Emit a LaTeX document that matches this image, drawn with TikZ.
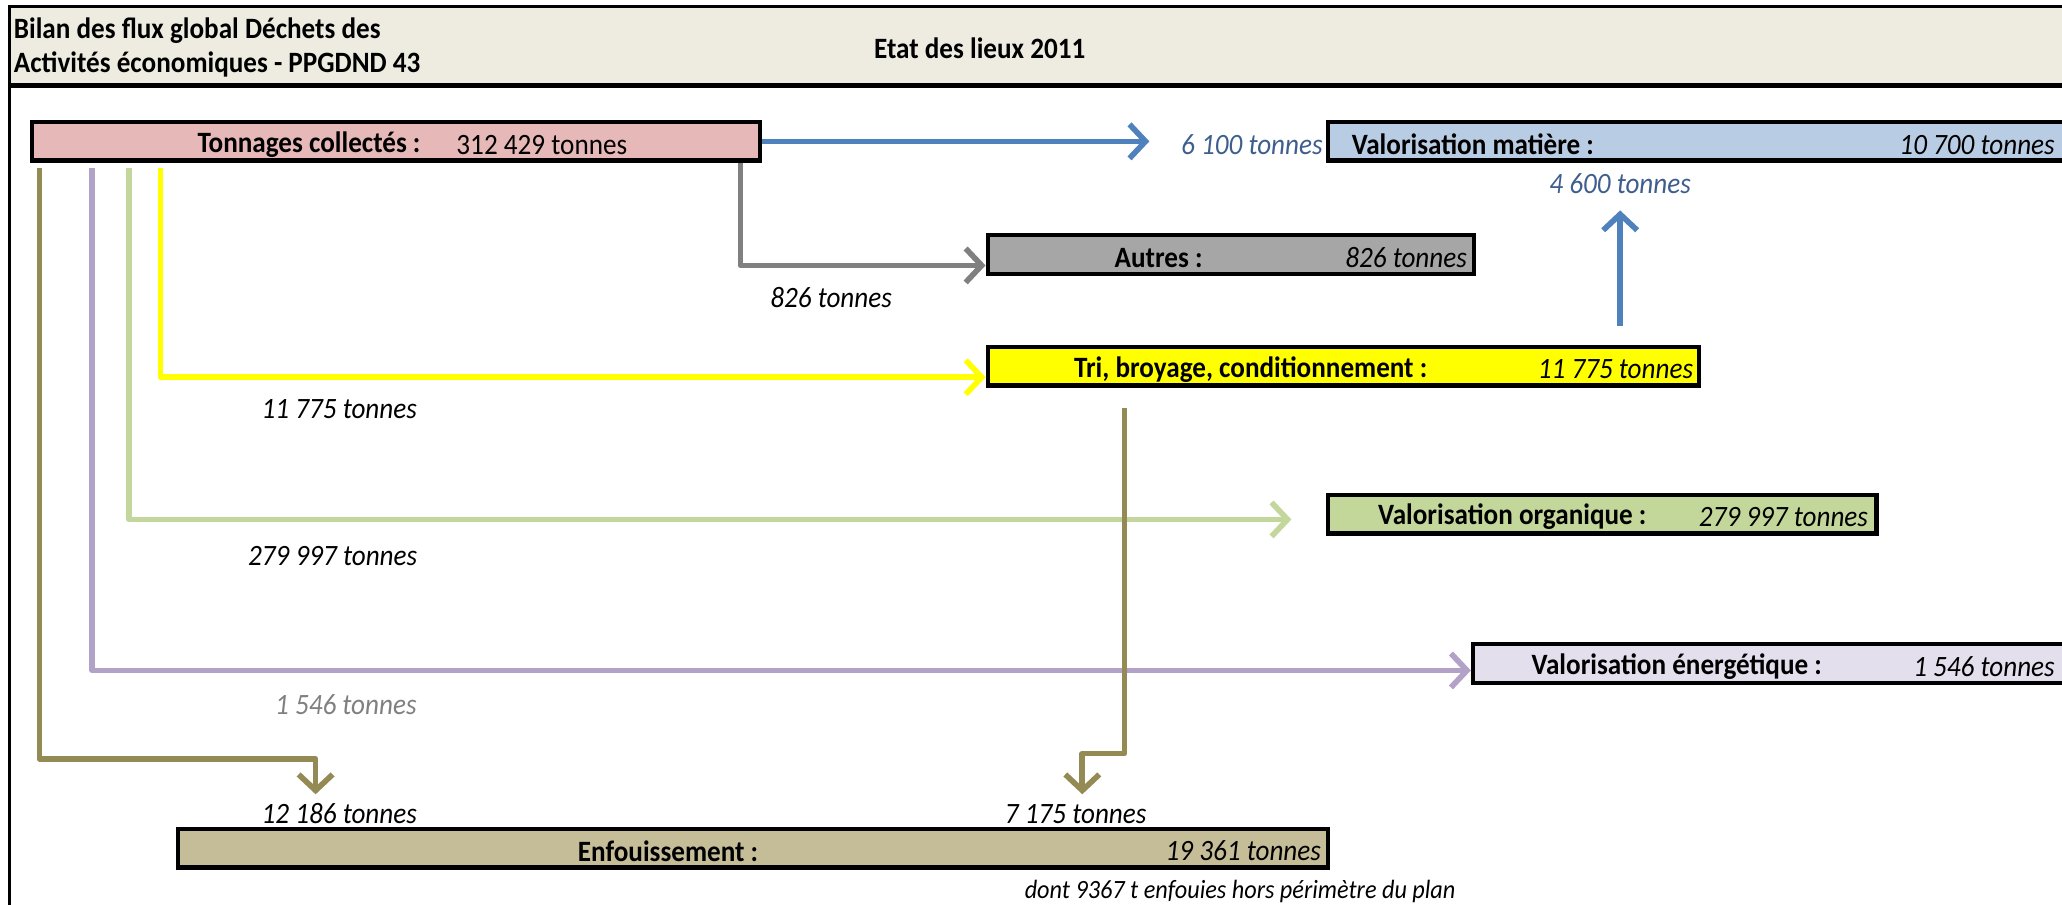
\documentclass[tikz,border=0pt]{standalone}
\usepackage{fontspec}
\setmainfont{Carlito}[FakeStretch=0.92]
\usetikzlibrary{arrows.meta,calc}

\definecolor{hdr}{HTML}{EEECE1}
\definecolor{rose}{HTML}{E6B8B7}
\definecolor{bleuclair}{HTML}{B8CCE4}
\definecolor{grisclair}{HTML}{A6A6A6}
\definecolor{vertclair}{HTML}{C4D79B}
\definecolor{lavande}{HTML}{E4DFEC}
\definecolor{kaki}{HTML}{C4BD97}
\definecolor{fbleu}{HTML}{4F81BD}
\definecolor{fgris}{HTML}{808080}
\definecolor{fjaune}{HTML}{FFFF00}
\definecolor{fvert}{HTML}{C3D69B}
\definecolor{fviolet}{HTML}{B3A2C7}
\definecolor{folive}{HTML}{948A54}
\definecolor{tbleu}{HTML}{3E5E8E}

\begin{document}
\begin{tikzpicture}[x=0.01315cm,y=-0.01315cm,
   font=\fontsize{8.4}{10}\selectfont,
   box/.style={draw,line width=1.2pt,minimum height=0.385cm,inner sep=0pt},
   lab/.style={font=\fontsize{8.4}{10}\selectfont\bfseries,inner sep=0pt},
   val/.style={font=\fontsize{8.4}{10}\selectfont\itshape,inner sep=0pt,anchor=east},
   qte/.style={font=\fontsize{8.4}{10}\selectfont\itshape,inner sep=0pt},
   flux/.style={line width=1.6pt,line join=round,-{Straight Barb[length=1.6mm,width=3.4mm,line width=1.6pt]}}]
  \useasboundingbox (0,0) rectangle (1568,688);
  \fill[hdr] (7,5) rectangle (1575,65);
  \draw[line width=0.9pt] (1575,5) -- (7,5) -- (7,700);
  \draw[line width=1.5pt] (7,65) -- (1575,65);
  \node[lab,anchor=west] (titre1) at (10,23) {Bilan des flux global Déchets des};
  \node[lab,anchor=west] (titre2) at (10,49) {Activités économiques - PPGDND 43};
  \node[lab] (etat) at (745,37) {Etat des lieux 2011};

  \node[box,fill=rose,minimum width=7.285cm] (tonn) at (301,107.5) {};
  \node[box,fill=bleuclair,minimum width=7.39cm] (vmat) at (1291,107.5) {};
  \node[box,fill=grisclair,minimum width=4.866cm] (autres) at (936,193.5) {};
  \node[box,fill=fjaune,minimum width=7.114cm] (tri) at (1021.5,278.5) {};
  \node[box,fill=vertclair,minimum width=5.484cm] (vorg) at (1218.5,391) {};
  \node[box,fill=lavande,minimum width=5.944cm] (vene) at (1346,504.5) {};
  \node[box,fill=kaki,minimum width=11.506cm] (enf) at (572.5,645) {};

  \node[lab] (tonnL) at (235,110) {Tonnages collectés :};
  \node[inner sep=0pt] (tonnV) at (412,110) {312 429 tonnes};
  \node[lab] (vmatL) at (1120,110) {Valorisation matière :};
  \node[val] (vmatV) at (1563,110) {10 700 tonnes};
  \node[lab] (autresL) at (881,196) {Autres :};
  \node[val] (autresV) at (1116,196) {826 tonnes};
  \node[lab] (triL) at (951,281) {Tri, broyage, conditionnement :};
  \node[val] (triV) at (1288,281) {11 775 tonnes};
  \node[lab] (vorgL) at (1150,393) {Valorisation organique :};
  \node[val] (vorgV) at (1421,393) {279 997 tonnes};
  \node[lab] (veneL) at (1275,507) {Valorisation énergétique :};
  \node[val] (veneV) at (1563,507) {1 546 tonnes};
  \node[lab] (enfL) at (508,647) {Enfouissement :};
  \node[val] (enfV) at (1005,647) {19 361 tonnes};

  \node[qte,text=tbleu] (q6100) at (952,110) {6 100 tonnes};
  \node[qte,text=tbleu] (q4600) at (1232,140) {4 600 tonnes};
  \node[qte] (q826) at (632,226) {826 tonnes};
  \node[qte] (q11775) at (258,311) {11 775 tonnes};
  \node[qte] (q279997) at (253,423) {279 997 tonnes};
  \node[qte,text=fgris] (q1546) at (263,536) {1 546 tonnes};
  \node[qte] (q12186) at (258,619) {12 186 tonnes};
  \node[qte] (q7175) at (818,619) {7 175 tonnes};
  \node[qte,font=\fontsize{7.5}{9}\selectfont\itshape] (dont) at (943,678) {dont 9367 t enfouies hors périmètre du plan};

  \coordinate (pBleu) at (874,107.5);
  \coordinate (dBleu) at (1232,248);
  \coordinate (pBleu2) at (1232,160);
  \coordinate (dGris) at (563,124);
  \coordinate (dJaune) at (122,128);
  \coordinate (dVert) at (98,128);
  \coordinate (pVert) at (982,395);
  \coordinate (dViolet) at (70,128);
  \coordinate (dOlive) at (30,128);
  \coordinate (pOlive) at (240,604);
  \coordinate (dTri) at (855,310);
  \coordinate (pTri) at (823,604);

  \draw[flux,fbleu] (tonn.east) -- (pBleu);
  \draw[flux,fbleu] (dBleu) -- (pBleu2);
  \draw[flux,fgris] (dGris) |- ([yshift=-1.1mm]autres.west);
  \draw[flux,fjaune] (dJaune) |- ([yshift=-1.1mm]tri.west);
  \draw[flux,fvert] (dVert) |- (pVert);
  \draw[flux,fviolet] (dViolet) |- ([yshift=-0.7mm]vene.west);
  \draw[flux,folive] (dOlive) -- ++(0,449) -| (pOlive);
  \draw[flux,folive] (dTri) -- ++(0,263) -| (pTri);
\end{tikzpicture}
\end{document}
